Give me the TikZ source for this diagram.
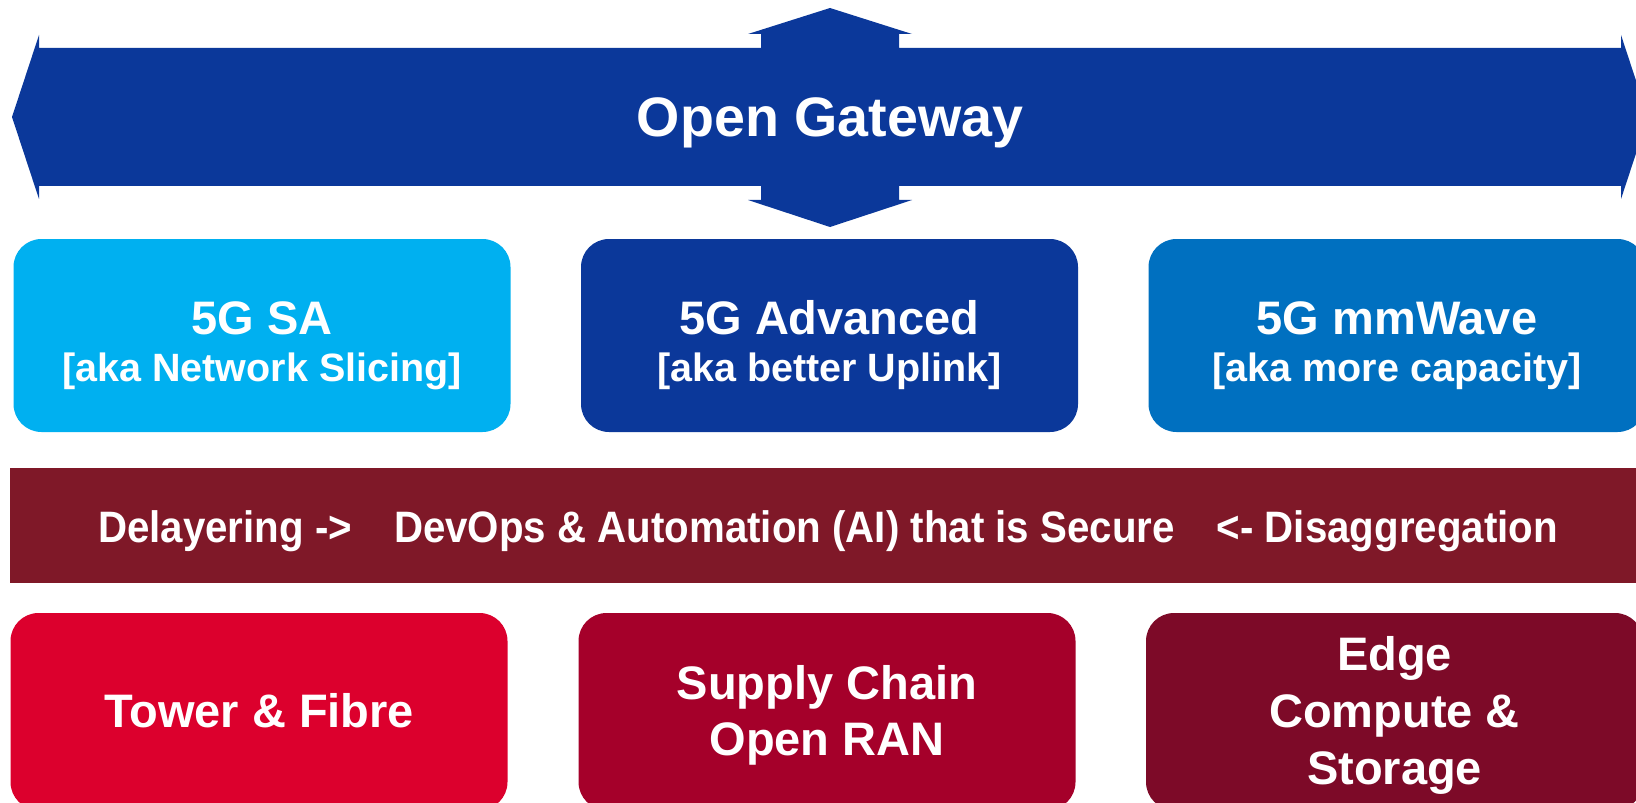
\documentclass[tikz,border=0pt]{standalone}
\usepackage{fontspec}
\setmainfont{Liberation Sans}
\newfontfamily\condfont[FakeStretch=0.915]{Liberation Sans}
\definecolor{gwblue}{HTML}{0B389A}
\definecolor{skyblue}{HTML}{00B0F0}
\definecolor{midblue}{HTML}{0070C0}
\definecolor{barred}{HTML}{7F1828}
\definecolor{redA}{HTML}{DC002D}
\definecolor{redB}{HTML}{A5002A}
\definecolor{redC}{HTML}{7D0A28}
\begin{document}
\begin{tikzpicture}[x=0.5pt,y=-0.5pt,
  box/.style={rounded corners=14pt, minimum width=248.5pt, minimum height=96.5pt, inner sep=0pt, draw=none},
  lowbox/.style={box, minimum height=98.5pt},
  big/.style={text=white, inner sep=0pt, anchor=base, font=\fontsize{27.8pt}{33pt}\selectfont\bfseries},
  head/.style={text=white, inner sep=0pt, anchor=base, font=\fontsize{23.5pt}{28pt}\selectfont\bfseries},
  sub/.style={text=white, inner sep=0pt, anchor=base, font=\fontsize{19.75pt}{24pt}\selectfont\bfseries},
  bartext/.style={text=white, inner sep=0pt, anchor=base, font=\condfont\fontsize{22pt}{26pt}\selectfont\bfseries}]
\useasboundingbox (0,0) rectangle (1636,802);
% Open Gateway four-way arrow
\fill[gwblue] (12,117) -- (39,35) -- (39,48) -- (761,48) -- (761,34) -- (748,34) -- (830,8)
  -- (912,34) -- (899,34) -- (899,48) -- (1621,48) -- (1621,35) -- (1648,117)
  -- (1621,199) -- (1621,186) -- (899,186) -- (899,200) -- (912,200) -- (830,227)
  -- (748,200) -- (761,200) -- (761,186) -- (39,186) -- (39,199) -- cycle;
\node[big] (gw) at (830,137) {Open Gateway};
% top row
\node[box, fill=skyblue] (sa) at (262,335.5) {};
\node[head] (saA) at (262,334) {5G SA};
\node[sub] (saB) at (262,381) {[aka Network Slicing]};
\node[box, fill=gwblue] (adv) at (829.5,335.5) {};
\node[head] (advA) at (829.5,334) {5G Advanced};
\node[sub] (advB) at (829.5,381) {[aka better Uplink]};
\node[box, fill=midblue] (mmw) at (1397,335.5) {};
\node[head] (mmwA) at (1397,334) {5G mmWave};
\node[sub] (mmwB) at (1397,381) {[aka more capacity]};
% middle bar
\node[fill=barred, minimum width=815pt, minimum height=57.5pt, inner sep=0pt, anchor=north west] (bar) at (10,468) {};
\node[bartext] (bart) at (828,542) {Delayering ->\hspace*{21pt}DevOps \& Automation (AI) that is Secure\hspace*{21pt}<- Disaggregation};
% bottom row
\node[lowbox, fill=redA] (tower) at (259,711.5) {};
\node[head] (towerA) at (259,727) {Tower \& Fibre};
\node[lowbox, fill=redB] (supply) at (827,711.5) {};
\node[head] (supplyA) at (827,699) {Supply Chain};
\node[head] (supplyB) at (827,755) {Open RAN};
\node[lowbox, fill=redC] (edge) at (1394.5,711.5) {};
\node[head] (edgeA) at (1394.5,670) {Edge};
\node[head] (edgeB) at (1394.5,727) {Compute \&};
\node[head] (edgeC) at (1394.5,784) {Storage};
\end{tikzpicture}
\end{document}
